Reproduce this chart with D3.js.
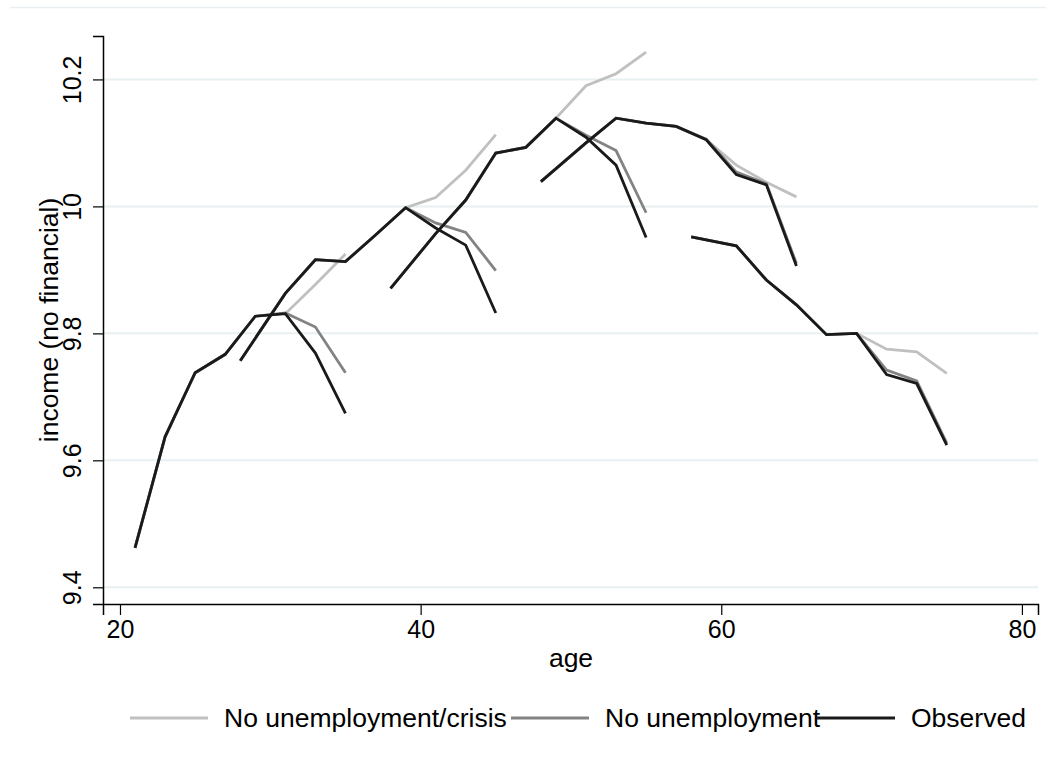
<!DOCTYPE html>
<html>
<head>
<meta charset="utf-8">
<script src="https://cdn.jsdelivr.net/npm/d3@7"></script>
<style>
  body { margin: 0; background: #fff; }
  svg text { font-family: "Liberation Sans", Arial, sans-serif; fill: #000; }
</style>
</head>
<body>
<div id="chart"></div>
<script>
// data: one line per cohort, ages in years
var legendLabels = ["No unemployment/crisis", "No unemployment", "Observed"];
var xTicks = [20, 40, 60, 80];
var yTicks = [9.4, 9.6, 9.8, 10, 10.2];

var cohortAges = [
  [21, 23, 25, 27, 29, 31, 33, 35],
  [28, 31, 33, 35, 37, 39, 41, 43, 45],
  [38, 41, 43, 45, 47, 49, 51, 53, 55],
  [48, 51, 53, 55, 57, 59, 61, 63, 65],
  [58, 61, 63, 65, 67, 69, 71, 73, 75]
];

var noUnempCrisis = [
  [9.462, 9.637, 9.738, 9.767, 9.827, 9.831, 9.877, 9.925],
  [9.757, 9.863, 9.916, 9.913, 9.955, 9.998, 10.014, 10.057, 10.113],
  [9.871, 9.957, 10.010, 10.084, 10.093, 10.139, 10.190, 10.209, 10.243],
  [10.039, 10.100, 10.139, 10.131, 10.126, 10.105, 10.065, 10.038, 10.015],
  [9.952, 9.938, 9.884, 9.845, 9.798, 9.800, 9.775, 9.771, 9.737]
];

var noUnemp = [
  [9.462, 9.637, 9.738, 9.767, 9.827, 9.832, 9.810, 9.738],
  [9.757, 9.863, 9.916, 9.913, 9.955, 9.998, 9.974, 9.959, 9.899],
  [9.871, 9.957, 10.010, 10.084, 10.093, 10.139, 10.112, 10.088, 9.990],
  [10.039, 10.100, 10.139, 10.131, 10.126, 10.106, 10.054, 10.036, 9.910],
  [9.952, 9.938, 9.884, 9.845, 9.798, 9.800, 9.742, 9.725, 9.627]
];

var observed = [
  [9.462, 9.637, 9.738, 9.767, 9.827, 9.831, 9.769, 9.674],
  [9.757, 9.863, 9.916, 9.913, 9.955, 9.998, 9.966, 9.939, 9.832],
  [9.871, 9.957, 10.010, 10.084, 10.093, 10.139, 10.109, 10.065, 9.951],
  [10.039, 10.100, 10.139, 10.131, 10.126, 10.105, 10.050, 10.034, 9.906],
  [9.952, 9.938, 9.884, 9.845, 9.798, 9.800, 9.735, 9.721, 9.624]
];

var seriesColors = ["#c0c0c0", "#838383", "#1a1a1a"];

// svg size
var svgWidth = 1056;
var svgHeight = 769;

var svg = d3.select("#chart").append("svg")
    .attr("width", svgWidth)
    .attr("height", svgHeight);

// faint outer border line at top
svg.append("line")
    .attr("x1", 10).attr("x2", 1046)
    .attr("y1", 7.5).attr("y2", 7.5)
    .attr("stroke", "#eaf0f2")
    .attr("stroke-width", 1.5);

// scales (axis lines span slightly beyond the tick range)
var xScale = d3.scaleLinear().domain([18.87, 81.07]).range([103, 1038]);
var yScale = d3.scaleLinear().domain([9.3737, 10.2684]).range([604, 36]);

// gridlines
svg.append("g").selectAll("line")
    .data(yTicks)
    .enter()
    .append("line")
    .attr("x1", 104).attr("x2", 1038)
    .attr("y1", d => yScale(d)).attr("y2", d => yScale(d))
    .attr("stroke", "#e8f0f2")
    .attr("stroke-width", 2);

// lines: crisis first, observed on top
var line = d3.line()
    .x(d => xScale(d[0]))
    .y(d => yScale(d[1]));

[noUnempCrisis, noUnemp, observed].forEach(function(series, i) {
  var g = svg.append("g").attr("class", "series-" + i);
  series.forEach(function(vals, c) {
    var pts = cohortAges[c].map((a, k) => [a, vals[k]]);
    g.append("path")
        .datum(pts)
        .attr("fill", "none")
        .attr("stroke", seriesColors[i])
        .attr("stroke-width", 2.8)
        .attr("d", line);
  });
});

// x axis
var xAxis = svg.append("g")
    .attr("transform", "translate(0, 604)")
    .call(d3.axisBottom(xScale).tickValues(xTicks).tickSizeOuter(0).tickSize(11).tickPadding(5));
xAxis.select(".domain").attr("stroke", "#000").attr("stroke-width", 1.5);
xAxis.selectAll(".tick line").attr("stroke", "#000").attr("stroke-width", 1.2);
xAxis.selectAll(".tick text")
    .attr("font-size", 25)
    .attr("font-family", "Liberation Sans, Arial, sans-serif")
    .attr("fill", "#000");

// y axis, labels turned
var yAxis = svg.append("g")
    .attr("transform", "translate(103, 0)")
    .call(d3.axisLeft(yScale).tickValues(yTicks).tickSizeOuter(0).tickSize(10).tickFormat(d3.format("")));
yAxis.select(".domain").attr("stroke", "#000").attr("stroke-width", 1.5);
yAxis.selectAll(".tick line").attr("stroke", "#000").attr("stroke-width", 1.2);
yAxis.selectAll(".tick text").remove();
yAxis.selectAll(".tick")
    .append("text")
    .attr("transform", "translate(-22, 0) rotate(-90)")
    .attr("text-anchor", "middle")
    .attr("font-size", 25)
    .attr("fill", "#000")
    .text(d => d3.format("")(d));

// axis titles
svg.append("text")
    .attr("x", 571)
    .attr("y", 667)
    .attr("text-anchor", "middle")
    .attr("font-size", 26.5)
    .text("age");

svg.append("text")
    .attr("transform", "translate(58, 320) rotate(-90)")
    .attr("text-anchor", "middle")
    .attr("font-size", 26.5)
    .text("income (no financial)");

// legend (keys run into the previous label, as in the picture)
var legendX = [130, 511, 817];
var legend = svg.append("g");
legendLabels.forEach(function(label, i) {
  legend.append("line")
      .attr("x1", legendX[i]).attr("x2", legendX[i] + 78)
      .attr("y1", 718).attr("y2", 718)
      .attr("stroke", seriesColors[i])
      .attr("stroke-width", 3);
  legend.append("text")
      .attr("x", legendX[i] + 94)
      .attr("y", 727)
      .attr("font-size", 26.5)
      .text(label);
});
</script>
</body>
</html>
